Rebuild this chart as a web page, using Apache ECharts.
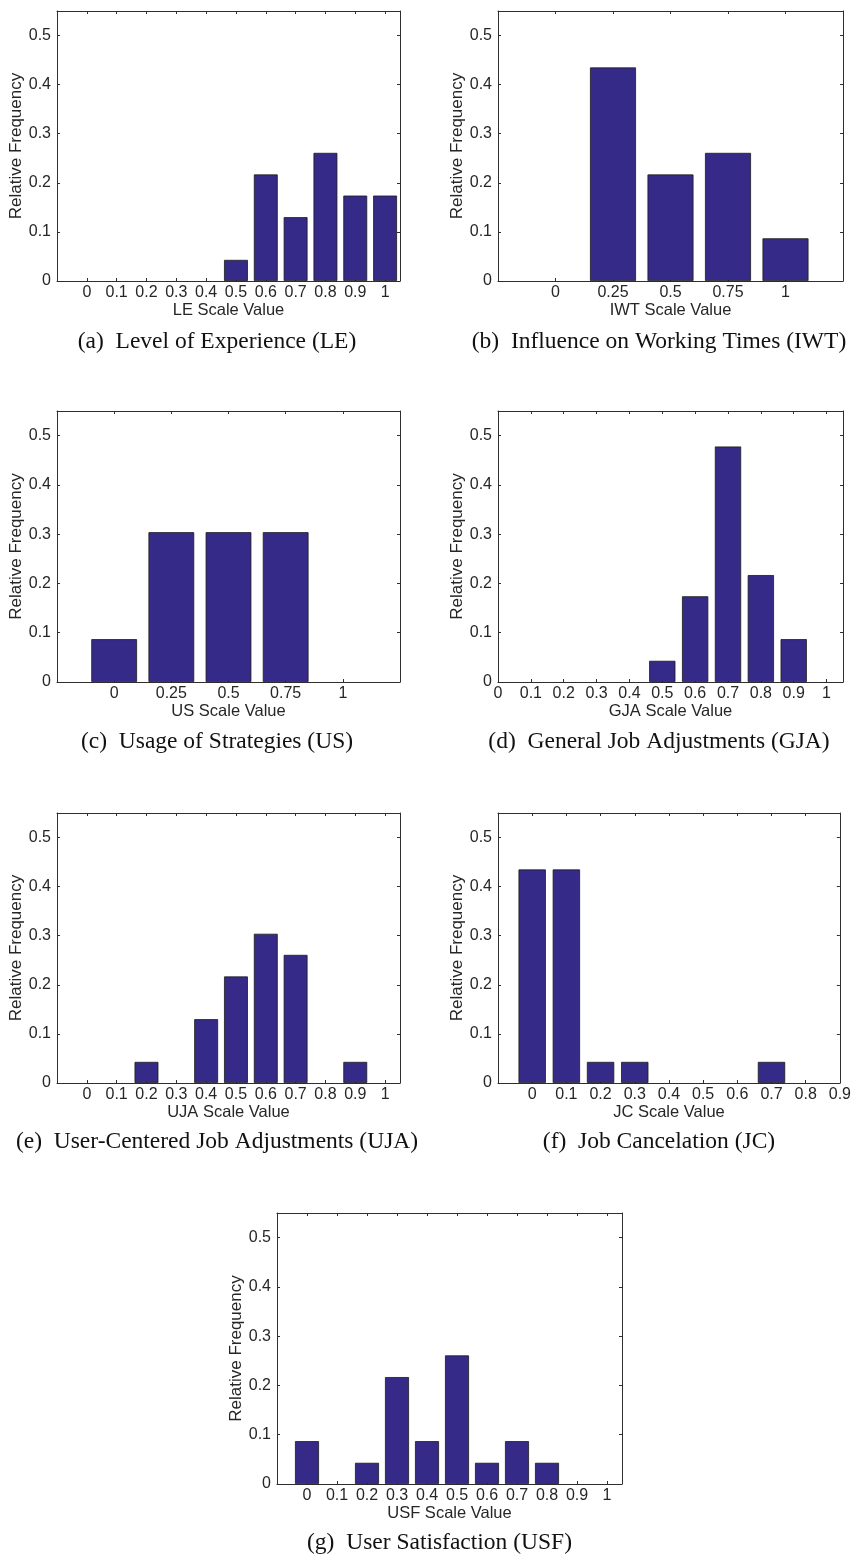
<!DOCTYPE html>
<html>
<head>
<meta charset="utf-8">
<script src="https://cdn.jsdelivr.net/npm/echarts@6/dist/echarts.min.js"></script>
<style>
html,body{margin:0;padding:0;background:#fff;}
#chart{width:854px;height:1557px;}
</style>
</head>
<body>
<div id="chart"></div>
<script>
// ---- data (relative frequencies) ----
const scale10 = [0, 0.1, 0.2, 0.3, 0.4, 0.5, 0.6, 0.7, 0.8, 0.9, 1];
const scale4 = [0, 0.25, 0.5, 0.75, 1];
const scaleJC = [0, 0.1, 0.2, 0.3, 0.4, 0.5, 0.6, 0.7, 0.8, 0.9];

const leFreq  = [0, 0, 0, 0, 0, 0.043, 0.217, 0.130, 0.261, 0.174, 0.174];
const iwtFreq = [0, 0.435, 0.217, 0.261, 0.087];
const usFreq  = [0.087, 0.304, 0.304, 0.304, 0];
const gjaFreq = [0, 0, 0, 0, 0, 0.043, 0.174, 0.478, 0.217, 0.087, 0];
const ujaFreq = [0, 0, 0.043, 0, 0.130, 0.217, 0.304, 0.261, 0, 0.043, 0];
const jcFreq  = [0.435, 0.435, 0.043, 0.043, 0, 0, 0, 0.043, 0, 0];
const usfFreq = [0.087, 0, 0.043, 0.217, 0.087, 0.261, 0.043, 0.087, 0.043, 0, 0];

const axisNames = ['LE Scale Value', 'IWT Scale Value', 'US Scale Value', 'GJA Scale Value',
                   'UJA Scale Value', 'JC Scale Value', 'USF Scale Value'];
const captions = ['(a)  Level of Experience (LE)', '(b)  Influence on Working Times (IWT)',
                  '(c)  Usage of Strategies (US)', '(d)  General Job Adjustments (GJA)',
                  '(e)  User-Centered Job Adjustments (UJA)', '(f)  Job Cancelation (JC)',
                  '(g)  User Satisfaction (USF)'];
const yLabel = 'Relative Frequency';

// ---- layout ----
const panels = [
  {grid:{left:57,  top:11,   width:343, height:270}, x:scale10, y:leFreq,  xmin:-0.1,  xmax:1.05, xint:0.1,  cap:[217, 342]},
  {grid:{left:498, top:11,   width:345, height:270}, x:scale4,  y:iwtFreq, xmin:-0.25, xmax:1.25, xint:0.25, cap:[659, 342]},
  {grid:{left:57,  top:411,  width:343, height:271}, x:scale4,  y:usFreq,  xmin:-0.25, xmax:1.25, xint:0.25, cap:[217, 742]},
  {grid:{left:498, top:411,  width:345, height:271}, x:scale10, y:gjaFreq, xmin:0,     xmax:1.05, xint:0.1,  cap:[659, 742]},
  {grid:{left:57,  top:813,  width:343, height:270}, x:scale10, y:ujaFreq, xmin:-0.1,  xmax:1.05, xint:0.1,  cap:[217, 1142]},
  {grid:{left:498, top:813,  width:345, height:270}, x:scaleJC, y:jcFreq,  xmin:-0.1,  xmax:0.9,  xint:0.1,  cap:[659, 1142]},
  {grid:{left:277, top:1213, width:345, height:271}, x:scale10, y:usfFreq, xmin:-0.1,  xmax:1.05, xint:0.1,  cap:[439.5, 1543]}
];

const TXT = '#262626';
const LINE = '#2e2e2e';
const SANS = 'Liberation Sans, Arial, Helvetica, sans-serif';
const SERIF = 'Liberation Serif, Times New Roman, serif';

function fmt(v) { return String(Number(Number(v).toFixed(2))); }

const option = {
  animation: false,
  backgroundColor: '#ffffff',
  grid: [], xAxis: [], yAxis: [], series: [], graphic: []
};

panels.forEach((p, i) => {
  option.grid.push(Object.assign({containLabel: false}, p.grid));
  const common = {
    splitLine: {show: false},
    axisTick: {show: true, inside: true, length: 3, lineStyle: {color: LINE, width: 1}},
    axisLine: {show: true, onZero: false, lineStyle: {color: LINE, width: 1}}
  };
  // bottom x axis
  option.xAxis.push(Object.assign({}, common, {
    type: 'value', gridIndex: i, position: 'bottom',
    min: p.xmin, max: p.xmax, interval: p.xint,
    name: axisNames[i], nameLocation: 'middle', nameGap: 19,
    nameTextStyle: {color: TXT, fontSize: 16.5, fontFamily: SANS},
    axisLabel: {
      color: TXT, fontSize: 16, fontFamily: SANS, margin: 4,
      formatter: v => (v < -1e-6 || v > 1.0001) ? '' : fmt(v)
    }
  }));
  // top x axis (box + ticks)
  option.xAxis.push(Object.assign({}, common, {
    type: 'value', gridIndex: i, position: 'top',
    min: p.xmin, max: p.xmax, interval: p.xint,
    axisLabel: {show: false}
  }));
  // left y axis
  option.yAxis.push(Object.assign({}, common, {
    type: 'value', gridIndex: i, position: 'left',
    min: 0, max: 0.55, interval: 0.1,
    name: yLabel, nameLocation: 'middle', nameGap: 30,
    nameTextStyle: {color: TXT, fontSize: 17, fontFamily: SANS},
    axisLabel: {
      color: TXT, fontSize: 16, fontFamily: SANS, margin: 6,
      formatter: v => (v > 0.5001) ? '' : fmt(v)
    }
  }));
  // right y axis (box + ticks)
  option.yAxis.push(Object.assign({}, common, {
    type: 'value', gridIndex: i, position: 'right',
    min: 0, max: 0.55, interval: 0.1,
    axisLabel: {show: false}
  }));
  option.series.push({
    type: 'bar',
    xAxisIndex: 2 * i, yAxisIndex: 2 * i,
    data: p.x.map((xv, k) => ({
      value: [xv, p.y[k]],
      itemStyle: p.y[k] === 0 ? {borderWidth: 0, opacity: 0} : undefined
    })),
    barWidth: '80%',
    clip: true,
    silent: true,
    itemStyle: {color: '#352a87', borderColor: '#1a1a1a', borderWidth: 0.8}
  });
  option.graphic.push({
    type: 'text', x: p.cap[0], y: p.cap[1], silent: true,
    style: {
      text: captions[i], fill: '#111111',
      font: '23.5px ' + SERIF,
      textAlign: 'center', textVerticalAlign: 'middle'
    }
  });
});

const chart = echarts.init(document.getElementById('chart'), null, {renderer: 'canvas'});
chart.setOption(option);
</script>
</body>
</html>
